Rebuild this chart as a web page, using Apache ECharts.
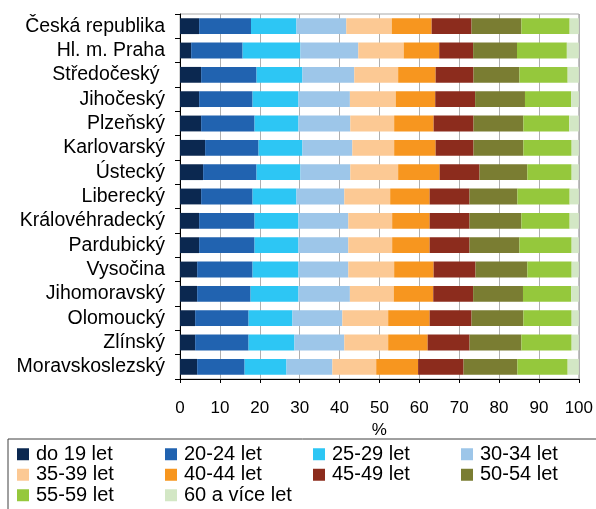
<!DOCTYPE html>
<html>
<head>
<meta charset="utf-8">
<script src="https://cdn.jsdelivr.net/npm/echarts@6/dist/echarts.min.js"></script>
<style>
html,body{margin:0;padding:0;background:#fff;}
#chart{width:596px;height:509px;}
</style>
</head>
<body>
<div id="chart"></div>
<script>
var categories = ["Česká republika","Hl. m. Praha","Středočeský ","Jihočeský","Plzeňský","Karlovarský","Ústecký","Liberecký","Královéhradecký","Pardubický","Vysočina","Jihomoravský","Olomoucký","Zlínský","Moravskoslezský"];
var seriesNames = ["do 19 let","20-24 let","25-29 let","30-34 let","35-39 let","40-44 let","45-49 let","50-54 let","55-59 let","60 a více let"];
var ticks = [0,10,20,30,40,50,60,70,80,90,100];

var age_do19  = [4.8, 2.8, 5.3, 4.8, 5.3, 6.3, 5.8, 5.3, 4.8, 4.8, 4.3, 4.3, 3.8, 3.8, 4.3];
var age_20_24 = [13.0,12.9,13.9,13.4,13.4,13.4,13.4,12.9,13.9,13.9,13.9,13.4,13.4,13.4,11.9];
var age_25_29 = [11.4,14.5,11.5,11.5,11.0,11.0,11.0,11.0,11.0,11.0,11.5,12.0,11.0,11.5,10.5];
var age_30_34 = [12.5,14.5,13.0,12.9,13.0,12.5,12.5,12.0,12.5,12.5,12.5,12.9,12.5,12.5,11.5];
var age_35_39 = [11.4,11.4,11.0,11.5,11.0,10.5,12.0,11.5,11.0,11.0,11.5,11.0,11.5,11.0,11.0];
var age_40_44 = [10.0,8.9, 9.4, 9.9, 9.9, 10.4,10.4,9.9, 9.4, 9.4, 9.9, 9.9, 10.4,9.9, 10.5];
var age_45_49 = [10.0,8.5, 9.5, 10.0,10.0,9.5, 10.0,10.0,10.0,10.0,10.5,10.0,10.5,10.5,11.4];
var age_50_54 = [12.5,11.0,11.5,12.5,12.5,12.5,12.0,12.0,13.0,12.5,13.0,12.5,13.0,13.0,13.5];
var age_55_59 = [12.1,12.5,12.1,11.6,11.5,12.1,11.1,13.1,12.1,13.1,11.1,12.1,12.1,12.6,12.6];
var age_60    = [2.3, 3.0, 2.8, 1.9, 2.4, 1.8, 1.8, 2.3, 2.3, 1.8, 1.8, 1.9, 1.8, 1.8, 2.8];

var colors = ["#0b2850","#2163b0","#2dc6f4","#9dc6e9","#fcc994","#f7961f","#8c2c1d","#7a7d32","#95c83c","#d3e7c5"];
var values = [age_do19, age_20_24, age_25_29, age_30_34, age_35_39, age_40_44, age_45_49, age_50_54, age_55_59, age_60];

var series = seriesNames.map(function(n, i){
  return {
    name: n, type: 'bar', stack: 'total', data: values[i],
    barCategoryGap: '35%',
    itemStyle: {color: colors[i]},
    emphasis: {disabled: true}
  };
});

var chart = echarts.init(document.getElementById('chart'), null, {renderer: 'canvas'});
chart.setOption({
  animation: false,
  textStyle: {fontFamily: 'Liberation Sans, Arial, sans-serif'},
  grid: {left: 180, right: 16, top: 14, bottom: 130, show: true, borderColor: '#a8a8a8', borderWidth: 1, backgroundColor: 'transparent'},
  xAxis: {
    type: 'value', min: ticks[0], max: ticks[ticks.length-1], interval: 10,
    name: '%', nameLocation: 'middle', nameGap: 40,
    nameTextStyle: {fontSize: 17, color: '#000', fontFamily: 'Liberation Sans, Arial, sans-serif'},
    axisLine: {show: true, lineStyle: {color: '#000', width: 1}},
    axisTick: {show: true, length: 4, lineStyle: {color: '#000'}},
    axisLabel: {fontSize: 17, color: '#000', margin: 21, fontFamily: 'Liberation Sans, Arial, sans-serif'},
    splitLine: {show: true, lineStyle: {color: '#b0b0b0', width: 1}}
  },
  yAxis: {
    type: 'category', data: categories, inverse: true,
    axisLine: {show: true, lineStyle: {color: '#000', width: 1}},
    axisTick: {show: true, length: 5, lineStyle: {color: '#000'}},
    axisLabel: {interval: 0, hideOverlap: false, fontSize: 19.5, color: '#000', margin: 15, fontFamily: 'Liberation Sans, Arial, sans-serif'},
    splitLine: {show: false}
  },
  legend: {
    data: seriesNames,
    left: 8, top: 439, width: 600,
    orient: 'horizontal',
    padding: [5, 10, 30, 9],
    borderColor: '#404040', borderWidth: 1,
    itemWidth: 12, itemHeight: 12, itemGap: 0,
    icon: 'rect',
    textStyle: {fontSize: 20, color: '#000', width: 129, lineHeight: 20.5, padding: [0,0,0,2], fontFamily: 'Liberation Sans, Arial, sans-serif'}
  },
  series: series
});
</script>
</body>
</html>
